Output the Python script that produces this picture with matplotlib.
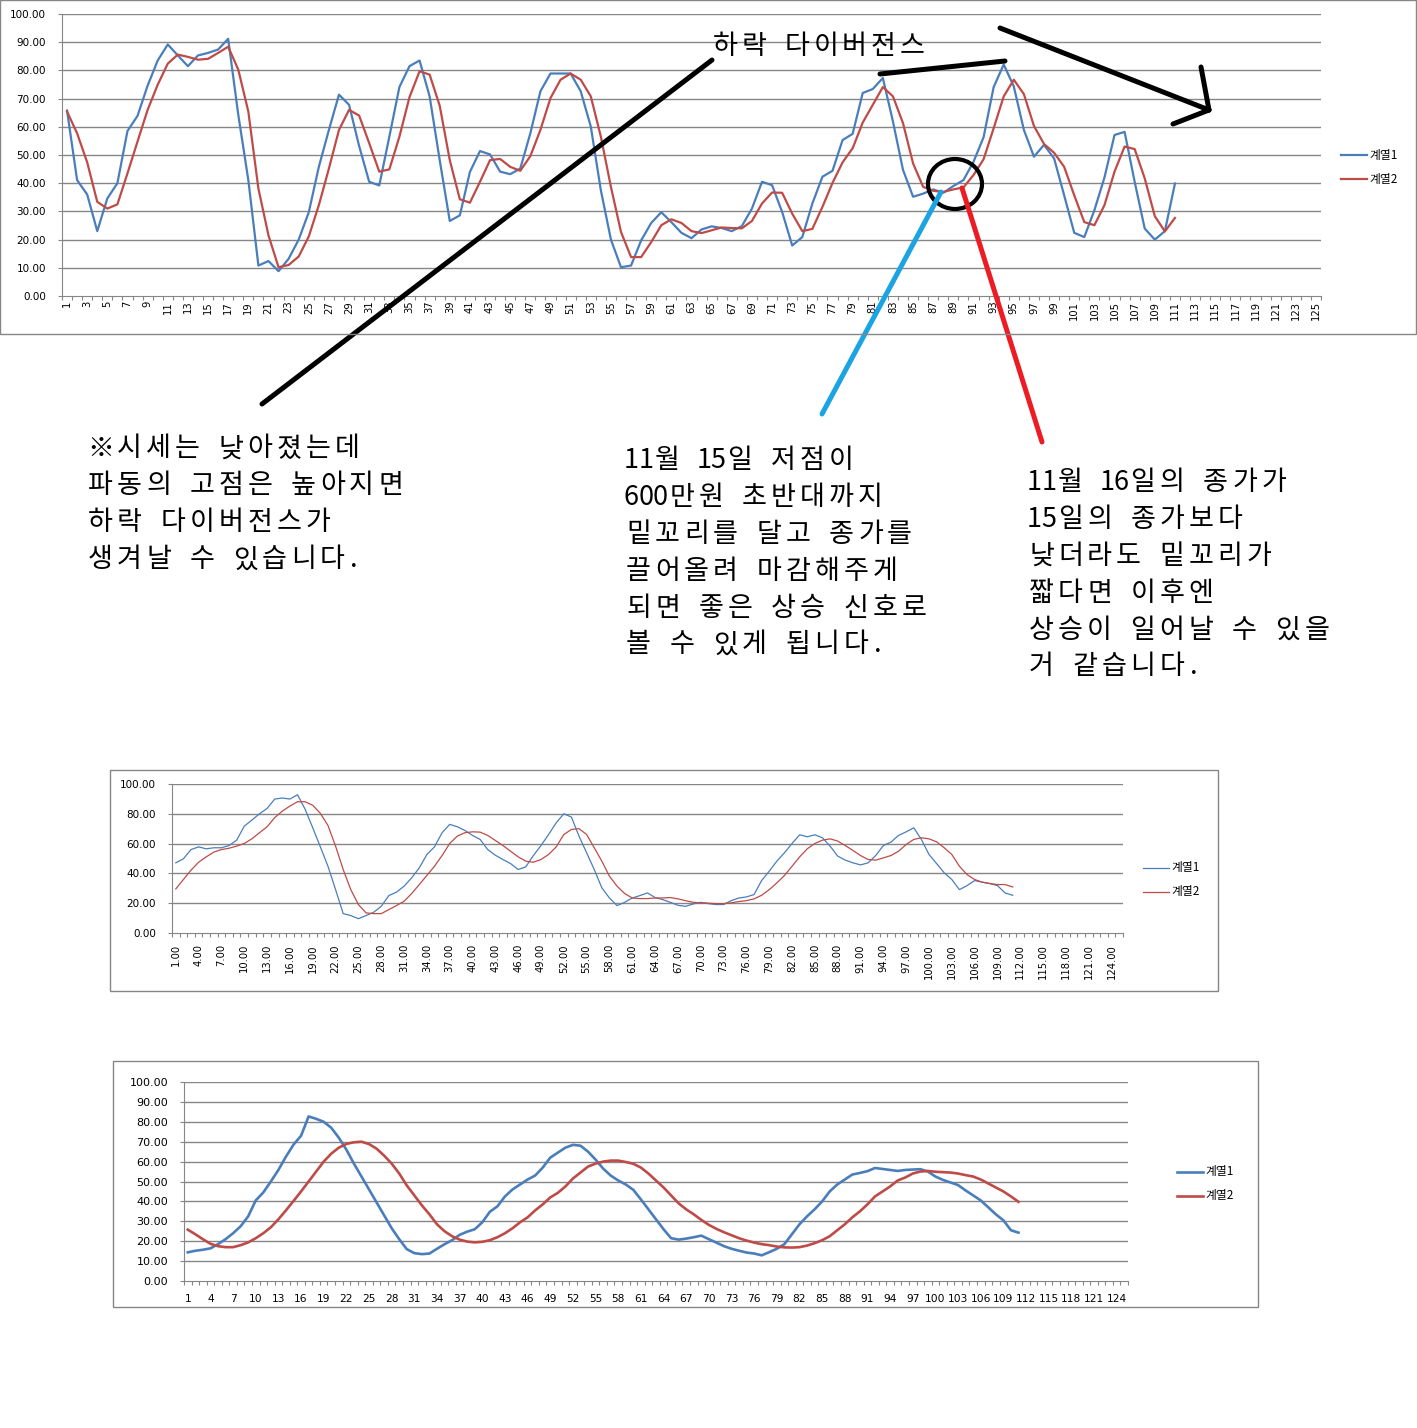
import numpy as np
import matplotlib
matplotlib.use("Agg")
import matplotlib.pyplot as plt
from matplotlib.patches import Rectangle, Ellipse

plt.rcParams['font.family'] = ['Noto Sans CJK KR', 'DejaVu Sans']

W, H = 1417, 1428
BLUE = '#4A7EBB'
RED = '#BE4B48'
GRID = '#868686'

# 위 차트 (계열1 / 계열2)
top_s1 = [65.8, 41.1, 36, 23, 34.6, 40, 58.5, 63.9, 74.6, 83.5,
          89.2, 85.3, 81.5, 85.3, 86.2, 87.4, 91.2, 64.3, 41.1, 10.8,
          12.4, 8.8, 13.2, 20, 29.7, 45.8, 58.9, 71.4, 67.8, 53.2,
          40.5, 39.2, 56.5, 74.1, 81.5, 83.5, 70.8, 48.2, 26.6, 28.6,
          44, 51.4, 50.2, 44.1, 43.2, 45.2, 57.7, 72.6, 78.9, 78.9,
          78.9, 72.6, 60.1, 37.5, 20, 10.2, 10.8, 19.7, 25.9, 29.7,
          26.2, 22.4, 20.5, 23.6, 24.7, 24.1, 23, 24.8, 31, 40.5,
          39.3, 29.8, 17.9, 20.9, 32.8, 42.3, 44.4, 55.3, 57.5, 72,
          73.4, 77.3, 61.9, 44.7, 35.2, 36.3, 37.8, 36.6, 39, 41.1,
          47.6, 56.3, 74.1, 82.1, 74.3, 58.9, 49.4, 53.6, 48.8, 35.7,
          22.4, 20.9, 30.4, 42, 57.1, 58.2, 40.5, 23.9, 20, 23,
          39.9]
top_s2 = [65.4, 57.7, 47.4, 33.4, 31, 32.5, 43.5, 54.8, 66, 74.9,
          82.4, 85.6, 84.8, 83.8, 84.1, 86.2, 88.4, 80.3, 65.4, 38.1,
          21.5, 10.2, 11, 14, 21.1, 32.2, 45.2, 58.9, 66, 64,
          54.2, 44.1, 44.9, 56.5, 70.5, 79.7, 78.5, 67.5, 48.2, 34.3,
          33.1, 40.5, 48.2, 48.6, 45.8, 44.4, 49.6, 58.9, 70.2, 76.7,
          78.9, 76.7, 70.8, 56.5, 38.7, 22.7, 13.8, 13.8, 19.1, 25.1,
          27.2, 25.9, 23, 22.3, 23.3, 24.3, 24.1, 24, 26.6, 32.8,
          36.7, 36.6, 29.2, 23, 23.8, 31.6, 40.1, 47.4, 52.4, 61.5,
          67.8, 74.1, 70.8, 61.3, 47, 38.7, 37.3, 36.9, 37.8, 38.5,
          42.9, 48.5, 59.5, 70.8, 76.7, 71.6, 60.3, 53.9, 50.8, 45.8,
          35.7, 26.2, 25.1, 32.2, 44.1, 53, 52.1, 41.7, 28.3, 22.9,
          27.7]

# 가운데 차트
mid_s1 = [47.1, 49.8, 56, 57.8, 56.5, 57.2, 57.2, 58.7, 62.3, 71.7,
          75.8, 80, 83.6, 89.9, 90.6, 89.9, 92.8, 83, 70.6, 57.8,
          44.8, 29.1, 13, 11.7, 9.6, 11.7, 13.9, 17.9, 25.1, 27.4,
          31.4, 37, 43.7, 52.7, 57.8, 67.3, 72.9, 71.3, 68.8, 65.5,
          62.8, 56, 52.2, 49.3, 46.6, 42.6, 44.4, 52, 58.7, 66.1,
          74, 80, 77.8, 65, 53.8, 42.6, 30.3, 23.5, 18.4, 20.6,
          23.5, 25.1, 26.9, 23.8, 22.4, 20.6, 18.6, 17.9, 19.5, 20.6,
          19.7, 19.1, 19.1, 21.7, 23.5, 24.2, 25.8, 35.2, 41.5, 48.2,
          53.8, 60.1, 65.9, 64.6, 65.9, 63.9, 58.3, 51.6, 48.9, 47.1,
          45.7, 47.1, 52, 58.7, 61, 65.5, 67.9, 70.6, 62.8, 52.7,
          46.6, 40.4, 35.9, 29.1, 31.8, 35.2, 34.1, 33.2, 31.8, 26.9,
          25.3]
mid_s2 = [29.6, 35.9, 42.2, 47.5, 51.1, 54.3, 56, 56.9, 58.3, 60.1,
          63.2, 67.3, 71.3, 77.4, 81.8, 85.2, 88.1, 88.1, 85.7, 80.3,
          72.2, 58.3, 42.6, 29.1, 19.1, 13.5, 13, 13, 15.7, 18.4,
          21.3, 26.5, 32.5, 38.6, 44.8, 52, 60.1, 65, 67.3, 67.9,
          67.7, 65.5, 62.1, 58.7, 54.9, 51.1, 48.2, 47.5, 49.3, 52.7,
          57.8, 66.1, 69.5, 70, 66.1, 57.2, 48.2, 38.1, 31.4, 26.5,
          23.5, 23.1, 23.1, 23.5, 23.5, 23.8, 22.9, 21.7, 20.6, 20.2,
          20, 19.7, 19.7, 20.2, 21.1, 21.7, 22.9, 25.3, 29.1, 33.6,
          38.6, 44.8, 51.1, 56.5, 60.1, 62.3, 63.2, 61.7, 58.7, 55.4,
          52, 49.3, 48.9, 50.4, 52, 54.9, 59.4, 62.8, 63.9, 63.2,
          61.2, 57.2, 52.7, 44.8, 39.2, 35.9, 34.1, 33.2, 32.5, 32.5,
          30.9]

# 아래 차트
bot_s1 = [14.4, 15.2, 15.7, 16.4, 18.5, 21, 24, 27.5, 32.5, 40.5,
          44.5, 50, 55.8, 62.5, 68.5, 73, 82.7, 81.5, 80, 77,
          72, 66, 59, 52.5, 46, 39.5, 33, 26.5, 21, 16,
          14, 13.5, 13.8, 16.2, 18.5, 20.5, 23.2, 24.8, 26, 29.5,
          34.8, 37.5, 42.5, 46, 48.5, 51, 53, 57, 62, 64.5,
          67, 68.4, 68, 65, 61, 56.5, 53, 50.5, 48.5, 45.8,
          41, 36, 31, 26, 21.5, 20.8, 21.3, 22, 22.8, 21,
          19.3, 17.5, 16.2, 15.2, 14.3, 13.8, 12.9, 14.5, 16.2, 18.5,
          23.5, 28.5, 32.5, 36, 40, 45, 48.5, 51, 53.5, 54.3,
          55.2, 56.8, 56.3, 55.8, 55.3, 55.8, 56, 56.2, 55, 52.5,
          50.8, 49.5, 48.2, 45.5, 43, 40.5, 37, 33.5, 30.5, 25.5,
          24.3]
bot_s2 = [25.8, 23.5, 21, 18.7, 17.5, 17, 17, 18, 19.4, 21.5,
          24, 27, 31, 35.5, 40.2, 45, 50, 55, 60, 64,
          67, 68.9, 69.7, 70, 68.8, 66.5, 63, 59, 54, 48,
          43, 38, 33.5, 28.5, 25, 22.5, 20.8, 19.8, 19.4, 19.7,
          20.5, 22, 24, 26.5, 29.5, 32, 35.5, 38.5, 42, 44.3,
          47.5, 51.5, 54.5, 57.5, 59, 60, 60.5, 60.5, 59.8, 58.9,
          57, 54, 50.5, 47, 43, 39, 36, 33.5, 30.7, 28.2,
          26.2, 24.5, 23, 21.5, 20.3, 19.3, 18.5, 18, 17.3, 16.9,
          16.8, 17, 17.8, 19, 20.5, 22.5, 25.5, 28.5, 32, 35,
          38.5, 42.5, 45, 47.5, 50.5, 52, 54, 55, 55.3, 54.9,
          54.7, 54.5, 54, 53.2, 52.5, 51, 49, 47, 45, 42.5,
          39.8]

n_cats = 125
series_names = ['계열1', '계열2']

title_note = '하락 다이버전스'
note1 = ['※시세는 낮아졌는데', '파동의 고점은 높아지면', '하락 다이버전스가', '생겨날 수 있습니다.']
note2 = ['11월 15일 저점이', '600만원 초반대까지', '밑꼬리를 달고 종가를',
         '끌어올려 마감해주게', '되면 좋은 상승 신호로', '볼 수 있게 됩니다.']
note3 = ['11월 16일의 종가가', '15일의 종가보다', '낮더라도 밑꼬리가',
         '짧다면 이후엔', '상승이 일어날 수 있을', '거 같습니다.']

fig = plt.figure(figsize=(W / 100, H / 100), dpi=100)


def frame(x0, y0, x1, y1):
    fig.patches.append(Rectangle((x0 / W, 1 - y1 / H), (x1 - x0) / W, (y1 - y0) / H,
                                 transform=fig.transFigure, fill=False,
                                 edgecolor=GRID, lw=1))


def px_axes(x0, y0, x1, y1):
    return fig.add_axes([x0 / W, 1 - y1 / H, (x1 - x0) / W, (y1 - y0) / H])


def excel_chart(ax, s1, s2, lw, yticks, label_cats, labels, rot, fs, xpad):
    x = np.arange(1, len(s1) + 1)
    for v in yticks[1:]:
        ax.axhline(v, color=GRID, lw=1, zorder=0)
    ax.plot(x, s1, color=BLUE, lw=lw, solid_joinstyle='round', zorder=3)
    ax.plot(x, s2, color=RED, lw=lw, solid_joinstyle='round', zorder=3)
    ax.set_xlim(0.5, n_cats + 0.5)
    ax.set_ylim(0, 100)
    ax.patch.set_alpha(0)
    for s in ['top', 'right']:
        ax.spines[s].set_visible(False)
    for s in ['left', 'bottom']:
        ax.spines[s].set_color(GRID)
    ax.set_yticks(yticks)
    ax.set_yticklabels([f'{v:.2f}' for v in yticks], fontsize=fs, family='DejaVu Sans')
    ax.tick_params(axis='y', length=3, color=GRID, pad=8.5)
    ax.set_xticks(np.arange(0.5, n_cats + 1, 1))
    ax.set_xticklabels([])
    ax.tick_params(axis='x', which='major', length=3, color=GRID)
    ax.set_xticks(label_cats, minor=True)
    ax.set_xticklabels(labels, minor=True, rotation=rot, fontsize=fs - 0.3,
                       family='DejaVu Sans')
    ax.tick_params(axis='x', which='minor', length=0, pad=xpad)


# chart 1
frame(0, 0, 1416, 334)
ax1 = px_axes(62, 14, 1321, 296)
odd = np.arange(1, n_cats + 1, 2)
excel_chart(ax1, top_s1, top_s2, 1.6, np.arange(0, 101, 10), odd,
            [str(c) for c in odd], 90, 7.5, 3.5)

# chart 2
frame(110, 770, 1218, 991)
ax2 = px_axes(172, 784, 1123, 933)
every3 = np.arange(1, n_cats + 1, 3)
excel_chart(ax2, mid_s1, mid_s2, 0.9, np.arange(0, 101, 20), every3,
            [f'{c:.2f}' for c in every3], 90, 7.5, 8)

# chart 3
frame(113, 1061, 1258, 1307)
ax3 = px_axes(184, 1082, 1128, 1281)
excel_chart(ax3, bot_s1, bot_s2, 1.9, np.arange(0, 101, 10), every3,
            [str(c) for c in every3], 0, 8, 9)

# overlay for legends and hand-drawn notes
ov = fig.add_axes([0, 0, 1, 1])
ov.set_xlim(0, W)
ov.set_ylim(H, 0)
ov.axis('off')
ov.patch.set_alpha(0)

legends = [(1341, 155, 24, 1.6), (1143, 868, 24, 0.9), (1177, 1172, 24, 1.9)]
for lx, ly, gap, lw in legends:
    for i, (name, col) in enumerate(zip(series_names, [BLUE, RED])):
        yy = ly + i * gap
        ov.plot([lx, lx + 26], [yy, yy], color=col, lw=lw)
        ov.text(lx + 28, yy, name, fontsize=8.5, va='center', ha='left')

pen = 3.6
ov.plot([262, 712], [404, 60], color='black', lw=pen, solid_capstyle='round')
ov.plot([880, 1005], [74, 61], color='black', lw=pen, solid_capstyle='round')
ov.plot([1000, 1209], [28, 110], color='black', lw=pen, solid_capstyle='round')
ov.plot([1201, 1209], [67, 110], color='black', lw=pen, solid_capstyle='round')
ov.plot([1173, 1209], [124, 110], color='black', lw=pen, solid_capstyle='round')
ov.add_patch(Ellipse((955, 184), 54, 50, fill=False, edgecolor='black', lw=3))
ov.plot([822, 941], [414, 192], color='#1BA3E3', lw=pen, solid_capstyle='round')
ov.plot([962, 1042], [188, 442], color='#ED1C24', lw=pen, solid_capstyle='round')


def mono_text(x, base, s, size=19.5, full=29.0):
    # Gulim-like spacing: hangul full cell, ascii half cell
    for ch in s:
        w = full / 2 if ord(ch) < 128 else full
        if ch != ' ':
            ov.text(x + w / 2, base, ch, fontsize=size, ha='center', va='baseline')
        x += w


mono_text(711, 54, title_note, full=28.7)
for lines, x0, base in [(note1, 86, 456.5), (note2, 624, 468), (note3, 1027, 490)]:
    for i, t in enumerate(lines):
        mono_text(x0, base + i * 36.9, t)

fig.savefig('out.png', dpi=100)
